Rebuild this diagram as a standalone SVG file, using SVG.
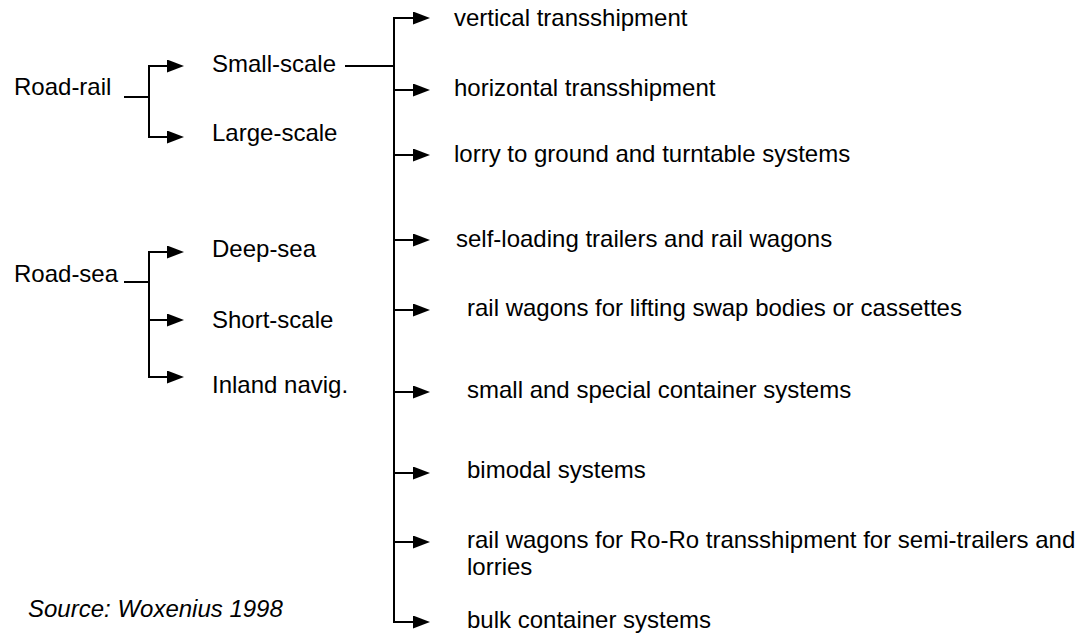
<svg xmlns="http://www.w3.org/2000/svg" width="1087" height="635" viewBox="0 0 1087 635">
  <style>
    .t { font-family: "Liberation Sans", Arial, sans-serif; font-size: 24px; fill: #000; }
    .src { font-style: italic; }
    .ln { fill: none; stroke: #000; stroke-width: 2; }
    .ar { fill: none; stroke: #000; stroke-width: 2; marker-end: url(#ah); }
  </style>
  <defs>
    <marker id="ah" markerWidth="17" markerHeight="13" refX="8" refY="6.5" orient="auto" markerUnits="userSpaceOnUse">
      <path d="M0,0 L17,6.5 L0,13 Z" fill="#000"/>
    </marker>
  </defs>
  <rect width="1087" height="635" fill="#fff"/>

  <g id="connectors">
    <!-- road-rail branch -->
    <path class="ln" d="M124,97 H149 M149,66 V137"/>
    <path class="ar" d="M148,66 H175"/>
    <path class="ar" d="M148,137 H175"/>
    <!-- road-sea branch -->
    <path class="ln" d="M124,282 H149 M149,252 V377"/>
    <path class="ar" d="M148,252 H175"/>
    <path class="ar" d="M148,320 H175"/>
    <path class="ar" d="M148,377 H175"/>
    <!-- small-scale technologies -->
    <path class="ln" d="M345,66 H394 M394,18 V622"/>
    <path class="ar" d="M393,18 H421"/>
    <path class="ar" d="M393,90 H421"/>
    <path class="ar" d="M393,155 H421"/>
    <path class="ar" d="M393,240 H421"/>
    <path class="ar" d="M393,310 H421"/>
    <path class="ar" d="M393,392 H421"/>
    <path class="ar" d="M393,473 H421"/>
    <path class="ar" d="M393,542 H421"/>
    <path class="ar" d="M393,622 H421"/>
  </g>

  <g id="road-rail"><text class="t" x="14" y="95">Road-rail</text></g>
  <g id="small-scale"><text class="t" x="212" y="72">Small-scale</text></g>
  <g id="large-scale"><text class="t" x="212" y="141">Large-scale</text></g>
  <g id="road-sea"><text class="t" x="14" y="282">Road-sea</text></g>
  <g id="deep-sea"><text class="t" x="212" y="257">Deep-sea</text></g>
  <g id="short-scale"><text class="t" x="212" y="328">Short-scale</text></g>
  <g id="inland"><text class="t" x="212" y="393">Inland navig.</text></g>

  <g id="vertical"><text class="t" x="454" y="26">vertical transshipment</text></g>
  <g id="horizontal"><text class="t" x="454" y="96">horizontal transshipment</text></g>
  <g id="lorry"><text class="t" x="454" y="162">lorry to ground and turntable systems</text></g>
  <g id="self-loading"><text class="t" x="456" y="247">self-loading trailers and rail wagons</text></g>
  <g id="swap-bodies"><text class="t" x="467" y="316">rail wagons for lifting swap bodies or cassettes</text></g>
  <g id="container"><text class="t" x="467" y="398">small and special container systems</text></g>
  <g id="bimodal"><text class="t" x="467" y="478">bimodal systems</text></g>
  <g id="ro-ro"><text class="t" x="467" y="548">rail wagons for Ro-Ro transshipment for semi-trailers and<tspan x="467" y="575">lorries</tspan></text></g>
  <g id="bulk"><text class="t" x="467" y="628">bulk container systems</text></g>

  <g id="source"><text class="t src" x="28" y="617">Source: Woxenius 1998</text></g>
</svg>
